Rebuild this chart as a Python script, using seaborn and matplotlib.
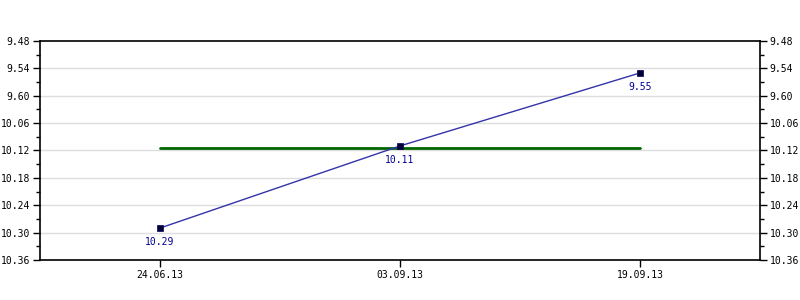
import matplotlib
matplotlib.use("Agg")
import matplotlib.pyplot as plt
import seaborn as sns
import numpy as np
import pandas as pd
from matplotlib.ticker import FixedLocator, MultipleLocator

sns.set_theme(style="white")
plt.rcParams['font.family'] = ['DejaVu Sans Mono', 'DejaVu Sans']

dates = ["24.06.13", "03.09.13", "19.09.13"]
values = [10.29, 10.11, 9.55]
avg_value = 10.115
tick_labels = ["9.48", "9.54", "9.60", "10.06", "10.12", "10.18", "10.24", "10.30", "10.36"]

# the axis jumps from 9.60 to 10.06 in one step; map label values onto an even scale
def to_axis(v):
    return v if v < 10 else v - 0.40

tick_pos = [to_axis(float(t)) for t in tick_labels]

df = pd.DataFrame({"x": np.arange(len(dates)), "y": [to_axis(v) for v in values]})

fig = plt.figure(figsize=(8, 3), dpi=100)
ax = fig.add_axes([0.05, 40/300, 0.9, 219/300])

ax.set_xlim(-0.5, 2.5)
ax.set_ylim(tick_pos[-1], tick_pos[0])

for p in tick_pos[1:-1]:
    ax.axhline(p, color="#dddddd", lw=1, zorder=0)

sns.lineplot(data=df, x="x", y="y", ax=ax, color="#3333aa", lw=1, zorder=3)
ax.plot([0, 2], [to_axis(avg_value)] * 2, color="#006600", lw=2, zorder=2)
sns.scatterplot(data=df, x="x", y="y", ax=ax, marker="s", s=13, color="#000033",
                edgecolor="#000066", linewidth=0.5, zorder=4)

for xi, yi, v in zip(df["x"], df["y"], values):
    ax.annotate(f"{v:.2f}", (xi, yi), xytext=(0, -6.5), textcoords="offset points",
                ha="center", va="top", fontsize=7, color="#000099")

ax.set_xticks(range(len(dates)))
ax.set_xticklabels(dates)
ax.yaxis.set_major_locator(FixedLocator(tick_pos))
ax.set_yticklabels(tick_labels)
ax.yaxis.set_minor_locator(MultipleLocator(0.03))
ax.set_xlabel("")
ax.set_ylabel("")

ax.tick_params(axis="both", which="major", direction="out", length=5, width=1,
               color="black", labelsize=7, labelcolor="black", pad=2,
               left=True, right=True, labelright=True, bottom=True)
ax.tick_params(axis="y", which="minor", direction="out", length=3, width=1,
               color="black", left=True, right=True)
for s in ax.spines.values():
    s.set_color("black")
    s.set_linewidth(1.2)
ax.grid(False)

fig.savefig("out.png", dpi=100, facecolor="white")
